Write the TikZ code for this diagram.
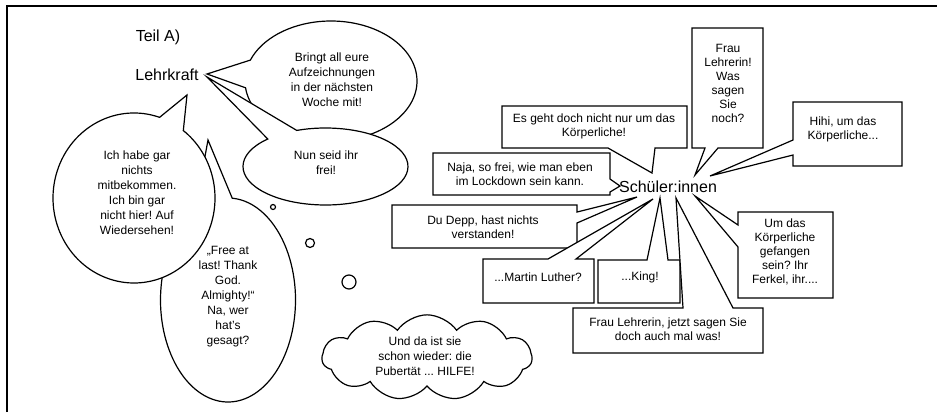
\documentclass[tikz,border=0pt]{standalone}
\usepackage{fontspec}
\setmainfont{Liberation Sans}
\usetikzlibrary{shapes.symbols}
\frenchspacing
\begin{document}
\begin{tikzpicture}[x=0.75pt,y=0.75pt, line width=0.9pt,
  bubble/.style={draw=black, fill=white, line join=miter},
  txt/.style={align=center, font=\fontsize{9}{10.5}\selectfont, inner sep=0pt},
  etxt/.style={align=center, font=\fontsize{9}{11.25}\selectfont, inner sep=0pt},
  big/.style={font=\fontsize{12}{14}\selectfont, inner sep=0pt}]
\useasboundingbox (0,0) rectangle (937,412);
% frame
\draw[line width=1.1pt] (7,0) -- (7,406) -- (937,406);

% labels
\node[big] (teil) at (158,375) {Teil A)};
\node[big] (lehr) at (167,337) {Lehrkraft};

% ellipse callouts
\draw[bubble] (245.55,324.21) arc[start angle=186.5, end angle=519.6, x radius=86, y radius=60] -- (207,338) -- cycle;
\node[etxt] (e1) at (332,332) {Bringt all eure\\Aufzeichnungen\\in der nächsten\\Woche mit!};

\draw[bubble] (267.77,273.01) arc[start angle=134.4, end angle=470.4, x radius=82.5, y radius=38.5] -- (207,335) -- cycle;
\node[etxt] (e2) at (326,249) {Nun seid ihr\\frei!};

\draw[bubble] (194.97,200.95) arc[start angle=119.3, end angle=446.4, x radius=67.5, y radius=102] -- (208,272) -- cycle;
\node[etxt] (e4) at (228,115) {„Free at\\last! Thank\\God.\\Almighty!“\\Na, wer\\hat’s\\gesagt?};

\draw[bubble] (159.57,294.66) arc[start angle=71.6, end angle=412.5, x radius=81, y radius=85] -- (187,317) -- cycle;
\node[etxt] (e3) at (137,219) {Ich habe gar\\nichts\\mitbekommen.\\Ich bin gar\\nicht hier! Auf\\Wiedersehen!};

% thought dots
\draw (273,205) circle[radius=2.5];
\draw (310,169) circle[radius=4.5];
\draw (349,130) circle[radius=7];

% cloud
\node[cloud, draw, fill=white, cloud puffs=11, cloud puff arc=110, inner sep=0pt,
      minimum width=157.5pt, minimum height=64pt] (cl) at (427,54.5) {};
\node[etxt] (clt) at (425,56) {Und da ist sie\\schon wieder: die\\Pubertät ... HILFE!};

% rectangular callouts
\draw[bubble] (502,306) -- (687,306) -- (687,264) -- (655,264) -- (652,239) -- (608,264) -- (502,264) -- cycle;
\node[txt] (b1) at (594,286) {Es geht doch nicht nur um das\\Körperliche!};

\draw[bubble] (692,384) -- (763,384) -- (763,264) -- (718,264) -- (695,237) -- (705,264) -- (692,264) -- cycle;
\node[txt] (b2) at (728,329) {Frau\\Lehrerin!\\Was\\sagen\\Sie\\noch?};

\draw[bubble] (793,310) -- (902,310) -- (902,246) -- (793,246) -- (793,257) -- (710,236) -- (793,272) -- cycle;
\node[txt] (b3) at (843,283) {Hihi, um das\\Körperliche...};

\draw[bubble] (433,259) -- (610,259) -- (610,233) -- (620,226) -- (610,220) -- (610,217) -- (433,217) -- cycle;
\node[txt] (b4) at (520,238) {Naja, so frei, wie man eben\\im Lockdown sein kann.};

\draw[bubble] (392,207) -- (577,207) -- (577,200) -- (637,215) -- (577,189) -- (577,164) -- (392,164) -- cycle;
\node[txt] (b5) at (483,185) {Du Depp, hast nichts\\verstanden!};

\draw[bubble] (483,153) -- (548,153) -- (653,213) -- (576,153) -- (594,153) -- (594,109) -- (483,109) -- cycle;
\node[txt] (b6) at (538,135) {...Martin Luther?};

\draw[bubble] (598,152) -- (647,152) -- (660,214) -- (668,152) -- (680,152) -- (680,109) -- (598,109) -- cycle;
\node[txt] (b7) at (640,135) {...King!};

\draw[bubble] (573,104) -- (683,104) -- (676,214) -- (733,104) -- (763,104) -- (763,59) -- (573,59) -- cycle;
\node[txt] (b8) at (668,83) {Frau Lehrerin, jetzt sagen Sie\\doch auch mal was!};

\draw[bubble] (738,200) -- (833,200) -- (833,114) -- (738,114) -- (738,165) -- (695,216) -- (738,187) -- cycle;
\node[txt] (b9) at (785,160) {Um das\\Körperliche\\gefangen\\sein? Ihr\\Ferkel, ihr....};

\node[big] (sch) at (668,225) {Schüler:innen};
\end{tikzpicture}
\end{document}
